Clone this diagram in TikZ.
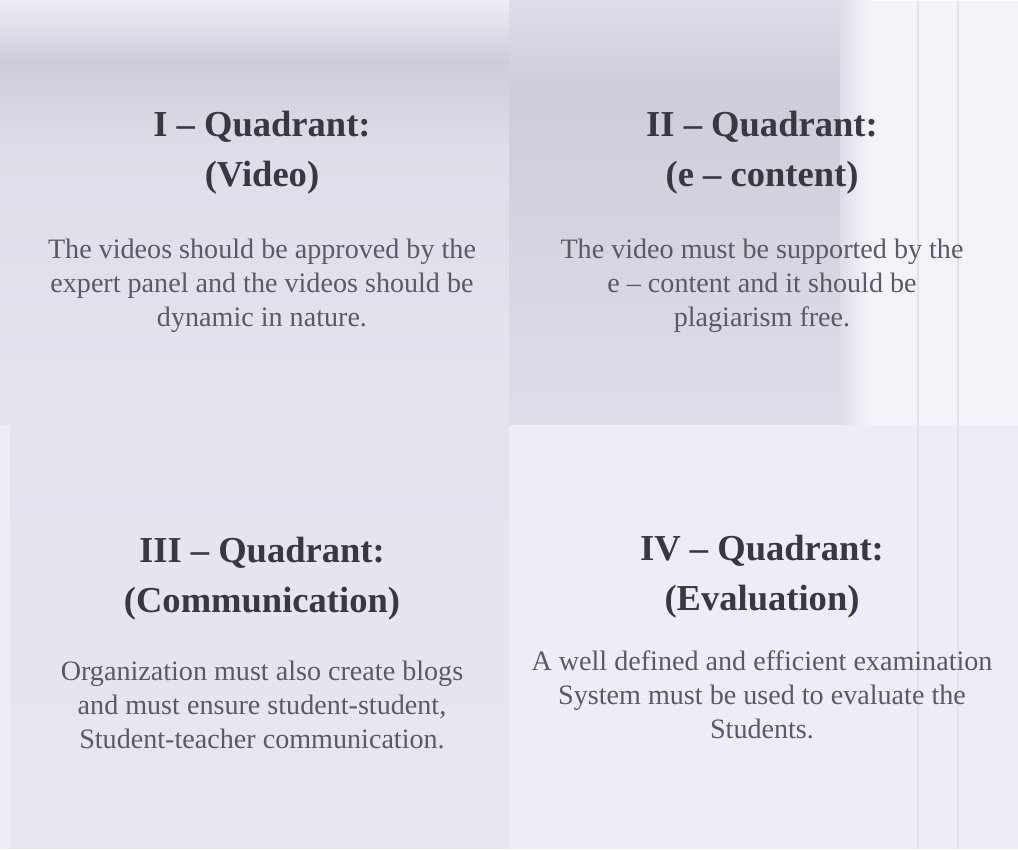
\documentclass[tikz,border=0pt]{standalone}
\usepackage{fontspec}
\setmainfont{Liberation Serif}
\usepackage{xcolor}
\usetikzlibrary{positioning}
\definecolor{qpaper}{RGB}{238,236,246}
\definecolor{qgrey}{RGB}{223,221,233}
\definecolor{qdark}{RGB}{206,204,218}
\definecolor{qlight}{RGB}{245,243,250}
\definecolor{qink}{RGB}{58,54,66}
\definecolor{qtext}{RGB}{92,88,100}
\tikzset{
  qtitle/.style={
    align=center, inner sep=0pt, text=qink,
    font=\fontsize{26}{36}\selectfont\bfseries
  },
  qbody/.style={
    align=center, inner sep=0pt, text=qtext,
    font=\fontsize{20}{24}\selectfont
  },
  qrule/.style={draw=qgrey!70!qpaper, line width=1pt}
}
\begin{document}
\begin{tikzpicture}[x=0.25mm, y=-0.25mm, node distance=11mm]
  % paper and scan shading
  \fill[qpaper] (0,0) rectangle (1018,848);
  \shade[top color=qpaper, bottom color=qdark] (0,0) rectangle (509,60);
  \shade[top color=qdark, bottom color=qgrey] (0,60) rectangle (509,150);
  \shade[top color=qgrey, bottom color=qgrey!60!qpaper] (0,150) rectangle (509,424);
  \shade[top color=qgrey, bottom color=qdark] (509,0) rectangle (840,90);
  \shade[top color=qdark, bottom color=qgrey] (509,90) rectangle (840,424);
  \shade[left color=qgrey, right color=qlight] (840,0) rectangle (870,424);
  \fill[qlight] (870,0) rectangle (1018,424);
  \shade[top color=qgrey!60!qpaper, bottom color=qgrey!45!qpaper] (10,424) rectangle (509,848);
  \draw[qrule] (918,0) -- (918,848);
  \draw[qrule] (958,0) -- (958,848);

  % quadrant texts
  \node[qtitle] (vidT) at (262,152) {I -- Quadrant:\\(Video)};
  \node[qbody, below=of vidT] (vidB)
    {The videos should be approved by the\\expert panel and the videos should be\\dynamic in nature.};
  \node[qtitle] (ecT) at (762,152) {II -- Quadrant:\\(e -- content)};
  \node[qbody, below=of ecT] (ecB)
    {The video must be supported by the\\e -- content and it should be\\plagiarism free.};
  \node[qtitle] (comT) at (262,578) {III -- Quadrant:\\(Communication)};
  \node[qbody, below=10mm of comT] (comB)
    {Organization must also create blogs\\and must ensure student-student,\\Student-teacher communication.};
  \node[qtitle] (evT) at (762,576) {IV -- Quadrant:\\(Evaluation)};
  \node[qbody, below=8mm of evT] (evB)
    {A well defined and efficient examination\\System must be used to evaluate the\\Students.};
\end{tikzpicture}
\end{document}
